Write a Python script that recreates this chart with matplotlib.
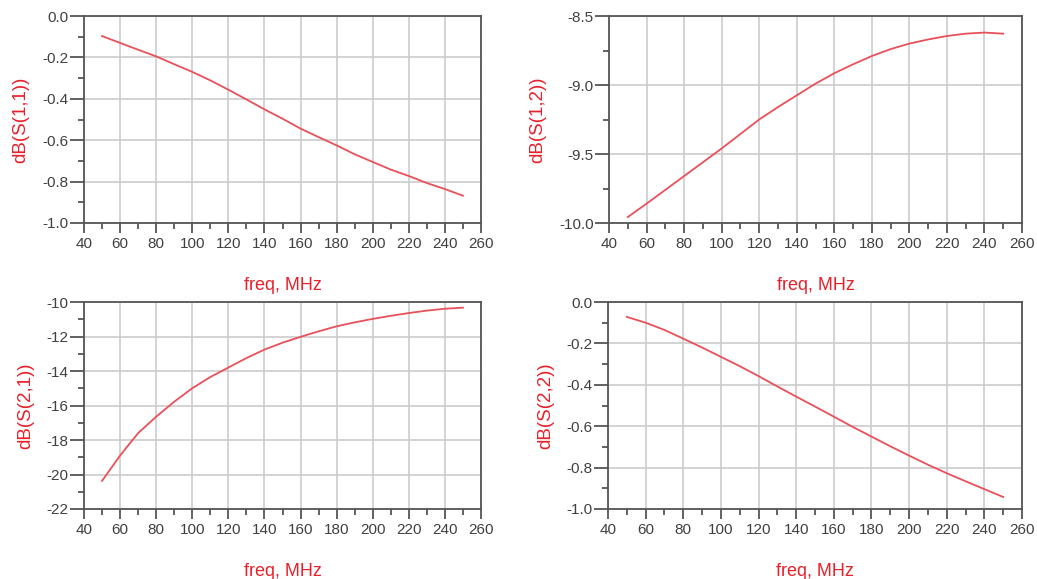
import matplotlib
matplotlib.use("Agg")
import matplotlib.pyplot as plt
from matplotlib.ticker import MultipleLocator, FormatStrFormatter

freq = [50, 60, 70, 80, 90, 100, 110, 120, 130, 140, 150, 160, 170, 180, 190, 200, 210, 220, 230, 240, 250]

s11 = [-0.097, -0.130, -0.163, -0.195, -0.233, -0.270, -0.311, -0.356, -0.403, -0.451, -0.496,
       -0.544, -0.585, -0.625, -0.668, -0.705, -0.742, -0.773, -0.807, -0.836, -0.868]
s12 = [-9.957, -9.86, -9.76, -9.66, -9.56, -9.46, -9.355, -9.25, -9.16, -9.075, -8.99,
       -8.915, -8.85, -8.79, -8.74, -8.70, -8.67, -8.645, -8.628, -8.62, -8.628]
s21 = [-20.37, -18.9, -17.6, -16.65, -15.78, -15.0, -14.35, -13.8, -13.25, -12.76, -12.36,
       -12.02, -11.7, -11.41, -11.18, -10.98, -10.8, -10.64, -10.5, -10.39, -10.33]
s22 = [-0.072, -0.100, -0.135, -0.177, -0.220, -0.265, -0.310, -0.358, -0.408, -0.457, -0.505,
       -0.554, -0.603, -0.650, -0.697, -0.742, -0.786, -0.827, -0.866, -0.904, -0.942]

ylabels = ["dB(S(1,1))", "dB(S(1,2))", "dB(S(2,1))", "dB(S(2,2))"]
xlabel = "freq, MHz"
xlim = (40, 260)
ylims = [(-1.0, 0.0), (-10.0, -8.5), (-22, -10), (-1.0, 0.0)]
ymajor = [0.2, 0.5, 2, 0.2]
yfmt = ["%.1f", "%.1f", "%d", "%.1f"]

plt.rcParams['font.family'] = ['Liberation Sans', 'DejaVu Sans']

W, H = 1037, 579
fig = plt.figure(figsize=(W / 100, H / 100), dpi=100)

# axes boxes in pixels: left, top, right, bottom
boxes = [(84, 16, 481, 223), (609, 16, 1022, 223), (84, 302, 481, 509), (608, 302, 1022, 509)]
ylab_x = [29, 546, 34, 554]  # right edge of rotated y label

red = "#e8202a"
line_c = "#e8505a"
spine_c = "#555555"
grid_c = "#cccccc"
tick_c = "#404040"

series = [s11, s12, s21, s22]
for i, (l, t, r, b) in enumerate(boxes):
    ax = fig.add_axes([l / W, 1 - b / H, (r - l) / W, (b - t) / H])
    ax.plot(freq, series[i], color=line_c, lw=1.3)
    ax.set_xlim(*xlim)
    ax.set_ylim(*ylims[i])
    ax.xaxis.set_major_locator(MultipleLocator(20))
    ax.xaxis.set_minor_locator(MultipleLocator(10))
    ax.yaxis.set_major_locator(MultipleLocator(ymajor[i]))
    ax.yaxis.set_minor_locator(MultipleLocator(ymajor[i] / 2))
    ax.yaxis.set_major_formatter(FormatStrFormatter(yfmt[i]))
    ax.grid(True, which='major', color=grid_c, lw=1.2)
    ax.set_axisbelow(True)
    for s in ax.spines.values():
        s.set_color(spine_c)
        s.set_linewidth(1.3)
    ax.tick_params(axis='x', which='major', length=7, width=1.3, color=spine_c,
                   labelsize=11, labelcolor=tick_c, pad=3)
    ax.tick_params(axis='x', which='minor', length=4.5, width=1.3, color=spine_c)
    ax.tick_params(axis='y', which='major', length=10, width=1.3, color=spine_c,
                   labelsize=11, labelcolor=tick_c, pad=1)
    ax.tick_params(axis='y', which='minor', length=4.5, width=1.3, color=spine_c)
    ax.set_xlabel(xlabel, color=red, fontsize=13)
    ax.xaxis.set_label_coords(0.5, -0.26)
    ax.set_ylabel(ylabels[i], color=red, fontsize=13.5)
    ax.yaxis.set_label_coords((ylab_x[i] - l) / (r - l), 0.5)

fig.savefig("out.png", dpi=100)
